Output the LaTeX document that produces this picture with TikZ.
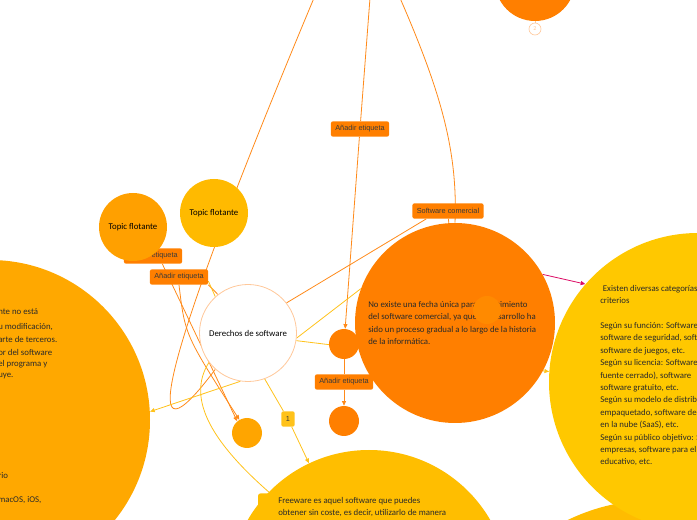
\documentclass[tikz,border=0pt]{standalone}
\usepackage{fontspec}
\setmainfont{Carlito}
\newfontfamily\tagfont{Liberation Sans}
\usetikzlibrary{arrows.meta,backgrounds}

\definecolor{deeporange}{HTML}{FF7F00}
\definecolor{dotorange}{HTML}{FF8A00}
\definecolor{floatorange}{HTML}{FFA000}
\definecolor{floatyellow}{HTML}{FFBA00}
\definecolor{smallorange}{HTML}{FFA500}
\definecolor{leftfill}{HTML}{FFA800}
\definecolor{rightfill}{HTML}{FFC800}
\definecolor{freefill}{HTML}{FFBE00}
\definecolor{cornerfill}{HTML}{FFBC00}
\definecolor{rootline}{HTML}{FFC89A}
\definecolor{linkorange}{HTML}{FF8A1A}
\definecolor{linkyellow}{HTML}{FFC21A}
\definecolor{linkred}{HTML}{DC0A64}
\definecolor{tagtext}{HTML}{3A3A3A}
\definecolor{bodytext}{HTML}{2A2A2A}

\begin{document}
\begin{tikzpicture}[x=0.75pt,y=-0.75pt,
  bubble/.style={circle,inner sep=0pt},
  etiq/.style={rectangle,rounded corners=1.5pt,fill=deeporange,text=tagtext,
    font=\tagfont\fontsize{5.5}{6}\selectfont,inner xsep=3.3pt,inner ysep=0pt,minimum height=11.5pt},
  olink/.style={draw=linkorange,line width=0.6pt},
  ylink/.style={draw=linkyellow,line width=0.6pt},
  arr/.style={-{Triangle[length=3.5pt,width=3pt]}},
  body/.style={font=\fontsize{6.6}{9.3}\selectfont,text=bodytext,align=left,inner sep=0pt}]

\useasboundingbox (0,0) rectangle (697,520);

% circles at the borders
\node[bubble,fill=cornerfill,minimum size=300pt] (corner) at (655,700) {};
\node[bubble,fill=rightfill,minimum size=223.5pt] (types) at (698,382) {};
\node[bubble,fill=freefill,minimum size=210pt] (freeware) at (369,590) {};
\node[fill=freefill,rounded corners=2pt,minimum width=18pt,minimum height=22pt,inner sep=0pt] (fwtab) at (270,508) {};
\node[bubble,fill=leftfill,minimum size=240pt] (propio) at (-10,420) {};
\node[bubble,fill=deeporange,minimum size=60pt] (upper) at (535,-19) {};
\node[bubble,fill=white,draw=rootline,line width=0.5pt,minimum size=9pt,text=rootline,font=\fontsize{4.5}{5}\selectfont] (two) at (535,29) {2};

\node[body,anchor=north west] at (600,285) {\hspace{2pt}Existen diversas categorías\\criterios\\[9.3pt]
Según su función: Software\\software de seguridad, software\\software de juegos, etc.\\
Según su licencia: Software\\fuente cerrado), software\\software gratuito, etc.\\
Según su modelo de distribución\\empaquetado, software de\\en la nube (SaaS), etc.\\
Según su público objetivo: Software\\empresas, software para el\\educativo, etc.};
\node[body,anchor=north west] at (278,497) {Freeware es aquel software que puedes\\obtener sin coste, es decir, utilizarlo de manera};
\foreach \y/\t in {312/{nte no está},327/{u modificación,},339/{arte de terceros.},352/{or del software},
  364/{el programa y},376/{uye.},476/{rio},500/{macOS, iOS,}}
  \node[body,anchor=west] at (-2,\y) {\t};

% main topic and its branches
\node[bubble,fill=white,draw=rootline,line width=0.6pt,minimum size=72.75pt,font=\fontsize{6.6}{8}\selectfont] (root) at (248,333) {Derechos de software};
\node[bubble,fill=deeporange,minimum size=150pt] (comercial) at (455,323) {};
\node[body,anchor=north west] at (368,301) {No existe una fecha única para el nacimiento\\del software comercial, ya que su desarrollo ha\\sido un proceso gradual a lo largo de la historia\\de la informática.};
\node[bubble,fill=dotorange,minimum size=21pt] (dot) at (487,310) {};
\node[bubble,fill=deeporange,minimum size=22.5pt] (pasoA) at (344,344) {};
\node[bubble,fill=deeporange,minimum size=22.5pt] (pasoB) at (344,421) {};
\node[bubble,fill=smallorange,minimum size=22.5pt] (suelto) at (247,433) {};
\node[etiq] (lab3) at (153,256) {Añadir etiqueta};
\node[bubble,fill=floatorange,minimum size=51pt,font=\fontsize{6.6}{8}\selectfont] (flotA) at (133,227) {Topic flotante};
\node[bubble,fill=floatyellow,minimum size=51pt,font=\fontsize{6.6}{8}\selectfont] (flotB) at (214,213) {Topic flotante};
\node[etiq] (lab4) at (179,277) {Añadir etiqueta};
\node[etiq] (lab2) at (360,129) {Añadir etiqueta};
\node[etiq] (lab1) at (448,211) {Software comercial};
\node[etiq] (lab5) at (344,382) {Añadir etiqueta};
\node[etiq,fill=linkyellow,minimum width=10pt] (one) at (288,419) {1};

\coordinate (fromA) at (314,-2);
\coordinate (fromB) at (370,-2);
\coordinate (fromC) at (400,-2);

\begin{pgfonlayer}{background}
\draw[olink] (fromA) .. controls (150,390) and (140,470) .. (root.228);
\draw[olink] (fromB) -- (lab2);
\draw[olink,arr] (lab2) -- (pasoA);
\draw[olink] (fromC) .. controls (440,90) and (458,150) .. (comercial.north);
\draw[olink] (root.38) -- (lab1.200);
\draw[olink] (lab1) -- (comercial);
\draw[olink] (flotA) -- (lab3);
\draw[olink] (lab4.-15) -- (root.128);
\draw[ylink] (lab4.-8) -- (root.132);
\draw[olink,arr] ([xshift=7pt]lab3.south) -- (suelto.130);
\draw[olink,arr] (lab4.south) .. controls (185,335) .. (suelto.120);
\draw[olink] (pasoA) -- (lab5);
\draw[olink,arr] (lab5) -- (pasoB);
\draw[ylink] (root.-6) -- (comercial.160);
\draw[ylink,arr] (root.-9) -- (types.176);
\draw[ylink,arr] (root.261) -- (propio.3);
\draw[ylink] (root.217) .. controls (185,400) and (215,445) .. (fwtab.north);
\draw[ylink] (root.290) -- (one);
\draw[ylink,arr] (one) -- (freeware);
\draw[draw=linkred,line width=0.6pt,arr] (comercial.29) -- (types.139);
\draw[draw=rootline,line width=0.6pt] (upper) -- (two);
\end{pgfonlayer}
\end{tikzpicture}
\end{document}
